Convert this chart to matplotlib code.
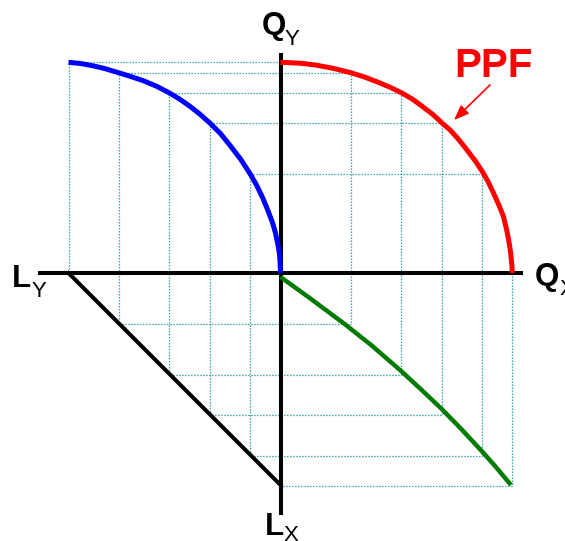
import matplotlib
matplotlib.use("Agg")
import matplotlib.pyplot as plt

# точки сітки (усі чотири квадранти), відлік від початку координат
L_Y = [212, 162, 111.5, 71, 30.5, 0]
Q_Y = [210.7, 200.3, 180.3, 150.3, 99.3, 0]
L_X = [0, 51, 102, 142, 183, 213]
Q_X = [0, 70.2, 120.8, 161.2, 201.5, 231.8]

# крива виробничих можливостей (Q_X, Q_Y)
ppf_qx = [0, 20, 35, 52, 70.2, 84, 97, 109, 120.8, 132, 142, 152, 161.2, 169, 176, 182,
          188, 195, 201.5, 207.5, 213, 218, 222.8, 226, 228.5, 230, 231, 231.6, 231.8]
ppf_qy = [210.7, 209.8, 208, 204.8, 200.3, 196, 191, 186, 180.3, 173.8, 166.5, 158.8, 150.3,
          143.5, 136, 128.8, 121, 111.8, 102, 91.5, 80, 68.8, 57, 44, 31, 21, 12, 5, 0]

# виробнича функція Y (L_Y, Q_Y)
fy_l = [212, 200, 187, 175, 162, 150, 137, 124, 111.5, 101, 91, 81, 71, 60, 50, 40,
        30.5, 24, 18, 13, 8, 5, 2.5, 1.2, 0.5, 0]
fy_q = [210.7, 209.5, 207.1, 204.2, 200.3, 196.6, 192.2, 186.8, 180.3, 174, 167, 159.2,
        150.3, 139.4, 127, 114, 99.3, 88, 75.6, 63.5, 50.4, 40, 28, 20, 12.6, 0]

# виробнича функція X (Q_X, L_X)
fx_q = [0, 27.8, 64.5, 91.2, 119.5, 141.2, 161.2, 181.2, 201.2, 214.5, 230.5]
fx_l = [4, 24, 51.3, 72.5, 97, 117, 136, 156.5, 178, 193, 212]

# лінія розподілу праці
L_total = 212

fig = plt.figure(figsize=(5.65, 5.41), dpi=100)
ax = fig.add_axes([0, 0, 1, 1])
ax.set_xlim(-280.5, 284.5)
ax.set_ylim(-268, 273)
ax.axis("off")

grid_c = "#0f9090"
for ly, qy, lx, qx in zip(L_Y, Q_Y, L_X, Q_X):
    ax.plot([-ly, qx, qx, -ly, -ly], [qy, qy, -lx, -lx, qy],
            color=grid_c, lw=0.9, ls=(0, (1, 1.4)), zorder=1)

# осі
ax.plot([-242.5, 242], [0, 0], color="black", lw=2.9, zorder=2, solid_capstyle="butt")
ax.plot([0, 0], [220, -242], color="black", lw=2.9, zorder=2, solid_capstyle="butt")

ax.plot([-L_total, 0], [0, -L_total], color="black", lw=2.9, zorder=3)
ax.plot(ppf_qx, ppf_qy, color="#ff0000", lw=3.6, zorder=4,
        solid_capstyle="butt", solid_joinstyle="round")
ax.plot([-v for v in fy_l], fy_q, color="#0000ff", lw=3.6, zorder=4,
        solid_capstyle="butt", solid_joinstyle="round")
ax.plot(fx_q, [-v for v in fx_l], color="#007a00", lw=3.2, zorder=4,
        solid_capstyle="butt", solid_joinstyle="round")

fam = ["Liberation Sans", "DejaVu Sans"]
big = 22.5
small = 16
ax.text(-6.5, 239, "Q", fontsize=big, fontweight="bold", family=fam, ha="center", va="baseline")
ax.text(4.5, 228, "Y", fontsize=small, family=fam, ha="left", va="baseline")
ax.text(254.5, -12, "Q", fontsize=big, fontweight="bold", family=fam, ha="left", va="baseline")
ax.text(278.5, -22, "X", fontsize=small, family=fam, ha="left", va="baseline")
ax.text(-269, -14, "L", fontsize=big, fontweight="bold", family=fam, ha="left", va="baseline")
ax.text(-249, -24, "Y", fontsize=small, family=fam, ha="left", va="baseline")
ax.text(-15.5, -262, "L", fontsize=big, fontweight="bold", family=fam, ha="left", va="baseline")
ax.text(3, -268, "X", fontsize=small, family=fam, ha="left", va="baseline")

ax.text(213, 196, "PPF", fontsize=29, fontweight="bold", color="#ff0000", family=fam,
        ha="center", va="baseline")
ax.annotate("", xy=(171.5, 151), xytext=(211.5, 190),
            arrowprops=dict(arrowstyle="-|>,head_length=0.9,head_width=0.35",
                            color="#ff0000", lw=1.2))

fig.savefig("out.png", dpi=100)
